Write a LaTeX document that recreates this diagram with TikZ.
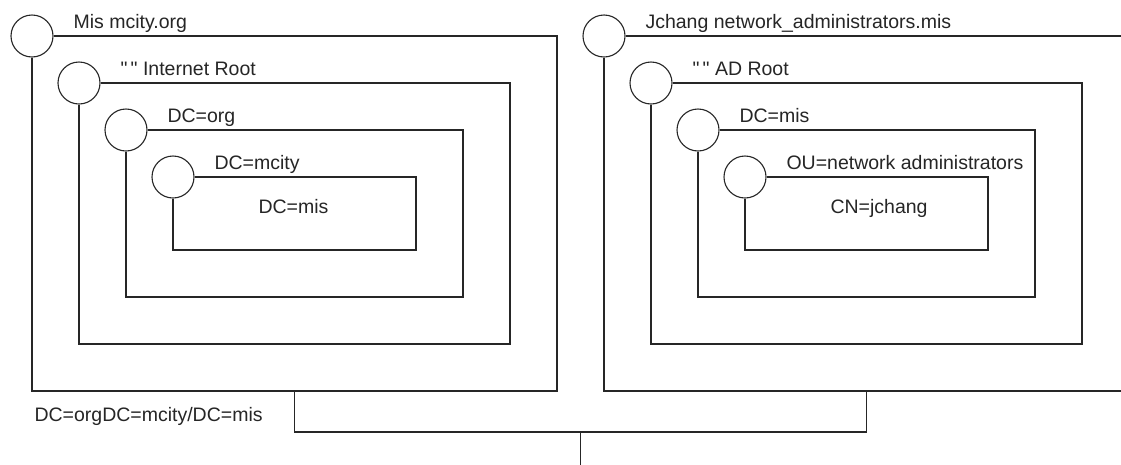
\documentclass[tikz,border=0pt]{standalone}
\usepackage{fontspec}
\setmainfont{Liberation Sans}
\usetikzlibrary{calc}
\definecolor{ink}{HTML}{262626}
\newcommand{\emptyname}{\textquotedbl\,\textquotedbl}
\tikzset{
  hub/.style={circle,draw,fill=white,minimum size=42pt,inner sep=0pt},
  tag/.style={anchor=base west,inner sep=0pt,font=\fontsize{19.5}{23}\selectfont},
}
\begin{document}
\begin{tikzpicture}[x=1pt,y=-1pt,line width=1.1pt,color=ink]
\clip (0,0) rectangle (1121,464);
\fill[white] (0,0) rectangle (1121,464);
% DNS style name, one box per level
\begin{scope}[name prefix=mis-]
  \foreach \n/\txt in {0/Mis mcity.org,1/\emptyname\ Internet Root,2/DC=org,3/DC=mcity}{
    \node[hub] (c\n) at ({32+47*\n},{36+47*\n}) {};
    \node[tag] (t\n) at ([xshift=41pt,yshift=8pt]c\n.center) {\txt};
    \draw (c\n.east) -| ({557-47*\n},{391-47*\n}) -| (c\n.south);
  }
  \node[tag] (leaf) at (258,213) {DC=mis};
  \coordinate (foot) at (294.5,391);
\end{scope}
% AD name, same nesting
\begin{scope}[xshift=572pt,name prefix=jc-]
  \foreach \n/\txt in {0/Jchang network\_administrators.mis,1/\emptyname\ AD Root,2/DC=mis,3/OU=network administrators}{
    \node[hub] (c\n) at ({32+47*\n},{36+47*\n}) {};
    \node[tag] (t\n) at ([xshift=41pt,yshift=8pt]c\n.center) {\txt};
    \draw (c\n.east) -| ({557-47*\n},{391-47*\n}) -| (c\n.south);
  }
  \node[tag] (leaf) at (258,213) {CN=jchang};
  \coordinate (foot) at (294.5,391);
\end{scope}
\node[tag] (path) at (34,421) {DC=orgDC=mcity/DC=mis};
% join the two
\draw (mis-foot) -- ++(0,41) coordinate (bend) -| (jc-foot);
\draw ($(bend)!.5!(bend -| jc-foot)$) coordinate (stem) -- ++(0,40);
\end{tikzpicture}
\end{document}
